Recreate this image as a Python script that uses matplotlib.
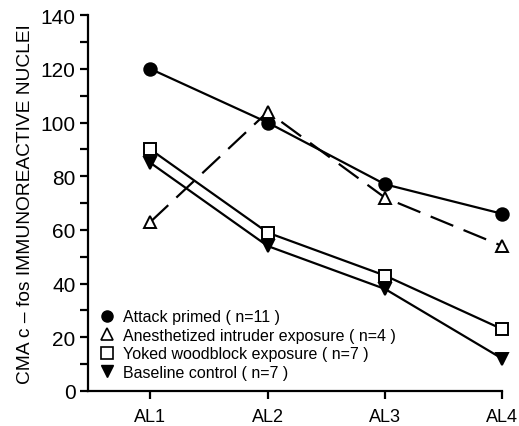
import matplotlib.pyplot as plt
from matplotlib.ticker import MultipleLocator

plt.rcParams['font.family'] = ['Liberation Sans', 'DejaVu Sans']

sites = ['AL1', 'AL2', 'AL3', 'AL4']
attack = [120, 100, 77, 66]
anesth = [63, 104, 72, 54]
yoked = [90, 59, 43, 23]
baseline = [85, 54, 38, 12]

labels = ['Attack primed ( n=11 )',
          'Anesthetized intruder exposure ( n=4 )',
          'Yoked woodblock exposure ( n=7 )',
          'Baseline control ( n=7 )']

fig = plt.figure(figsize=(5.19, 4.27), dpi=100)
ax = fig.add_axes([0.170, 0.082, 0.798, 0.880])

x = [1, 2, 3, 4]
kw = dict(color='black', lw=1.6, ms=9, mew=1.4, clip_on=False)
ax.plot(x, attack, marker='o', mfc='black', **kw)
ax.plot(x, anesth, marker='^', mfc='white', dashes=(11, 5), **kw)
ax.plot(x, yoked, marker='s', mfc='white', **kw)
ax.plot(x, baseline, marker='v', mfc='black', **kw)

# legend shows markers only
handles = [
    plt.Line2D([], [], ls='none', marker='o', color='black', ms=8),
    plt.Line2D([], [], ls='none', marker='^', color='black', mfc='white', ms=8, mew=1.2),
    plt.Line2D([], [], ls='none', marker='s', color='black', mfc='white', ms=8, mew=1.2),
    plt.Line2D([], [], ls='none', marker='v', color='black', ms=8),
]
ax.legend(handles, labels, loc='lower left', bbox_to_anchor=(0.0, 0.0),
          frameon=False, fontsize=11.5, handlelength=1.0, handletextpad=0.5,
          labelspacing=0.22, borderaxespad=0.3)

ax.set_xlim(0.47, 4.0)
ax.set_ylim(0, 140)
ax.set_xticks(x)
ax.set_xticklabels(sites)
ax.yaxis.set_major_locator(MultipleLocator(20))
ax.yaxis.set_minor_locator(MultipleLocator(10))
ax.tick_params(axis='both', which='major', labelsize=13, width=1.6, length=6, direction='out')
ax.tick_params(axis='y', labelsize=15, pad=3)
ax.tick_params(axis='y', which='minor', width=1.6, length=6)
ax.tick_params(axis='x', pad=6)

for s in ['top', 'right']:
    ax.spines[s].set_visible(False)
for s in ['left', 'bottom']:
    ax.spines[s].set_linewidth(1.6)

ax.set_ylabel('CMA c \u2013 fos IMMUNOREACTIVE NUCLEI', fontsize=13.8, labelpad=5)

fig.savefig('out.png', dpi=100)
